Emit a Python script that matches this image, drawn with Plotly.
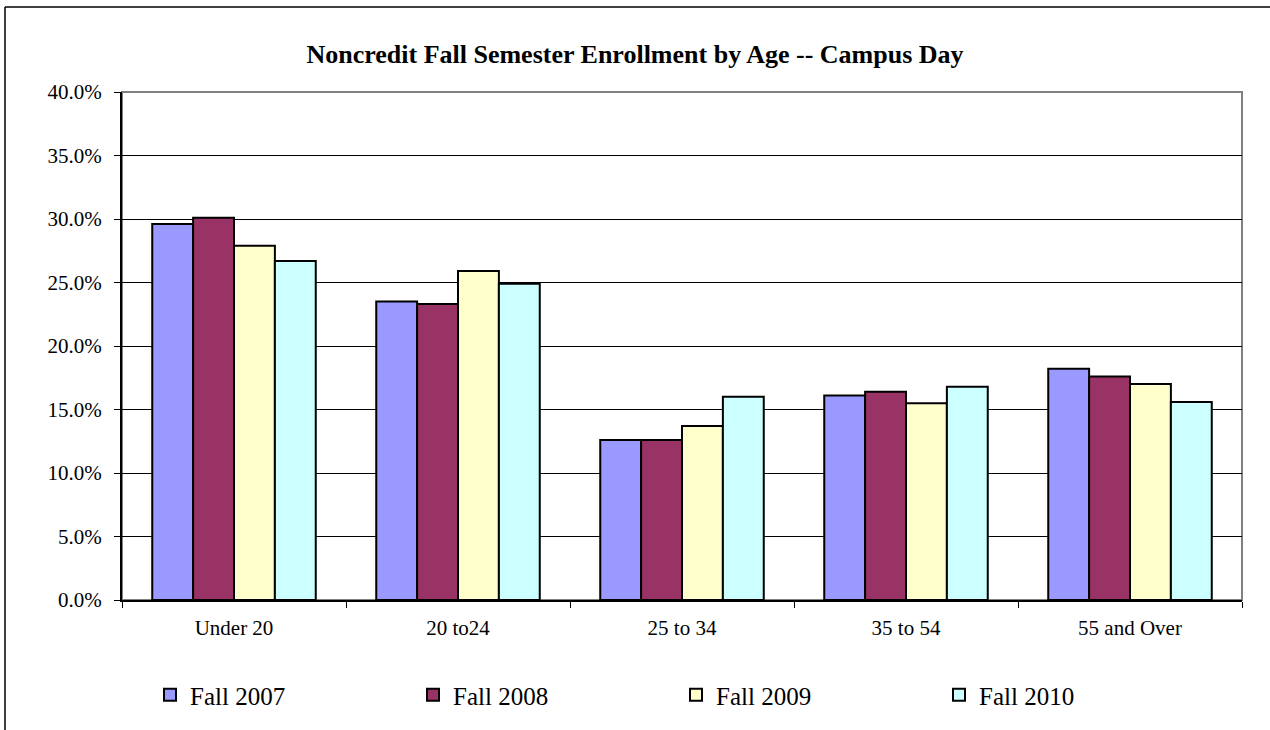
import plotly.graph_objects as go

categories = ["Under 20", "20 to24", "25 to 34", "35 to 54", "55 and Over"]
series_names = ["Fall 2007", "Fall 2008", "Fall 2009", "Fall 2010"]
fall_2007 = [29.6, 23.5, 12.6, 16.1, 18.2]
fall_2008 = [30.1, 23.3, 12.6, 16.4, 17.6]
fall_2009 = [27.9, 25.9, 13.7, 15.5, 17.0]
fall_2010 = [26.7, 24.9, 16.0, 16.8, 15.6]
colors = ["#9999FF", "#993366", "#FFFFCC", "#CCFFFF"]

W, H = 1270, 730
L, R, T, B = 122, 1242, 92, 600


def px_x(p):
    return (p - L) / (R - L)


def px_y(p):
    return (B - p) / (B - T)


fig = go.Figure()
for name, vals, col in zip(series_names, [fall_2007, fall_2008, fall_2009, fall_2010], colors):
    fig.add_trace(go.Bar(
        x=categories, y=[v / 100 for v in vals], name=name,
        marker=dict(color=col, line=dict(color="black", width=2)),
    ))

fig.update_layout(
    width=W, height=H,
    margin=dict(l=L, r=W - R, t=T, b=H - B, pad=0),
    paper_bgcolor="white", plot_bgcolor="white",
    font=dict(family="Liberation Serif, Times New Roman, serif", color="black", size=21),
    title=dict(text="<b>Noncredit Fall Semester Enrollment by Age -- Campus Day</b>",
               x=0.5, xanchor="center", y=1 - 54 / H, yanchor="middle",
               font=dict(size=26)),
    barmode="group", bargap=0.27, bargroupgap=0,
    showlegend=True,
    legend=dict(orientation="h", x=px_x(150), xanchor="left", y=px_y(695), yanchor="middle",
                entrywidth=218, entrywidthmode="pixels", font=dict(size=25),
                itemwidth=30, traceorder="normal"),
    shapes=[
        dict(type="line", xref="paper", yref="paper", x0=px_x(5), x1=px_x(1275),
             y0=px_y(7), y1=px_y(7), line=dict(color="black", width=1.5)),
        dict(type="line", xref="paper", yref="paper", x0=px_x(5), x1=px_x(5),
             y0=px_y(7), y1=px_y(735), line=dict(color="black", width=1.5)),
        dict(type="rect", xref="paper", yref="paper", x0=0, x1=1, y0=0, y1=1,
             line=dict(color="#808080", width=2), layer="below"),
    ],
)

fig.update_yaxes(range=[0, 0.4], dtick=0.05, tickformat=".1%",
                 showgrid=True, gridcolor="black", gridwidth=1,
                 showline=True, linecolor="black", linewidth=2,
                 ticks="outside", ticklen=6, tickcolor="black",
                 ticklabelstandoff=8, zeroline=False)
fig.update_xaxes(showline=True, linecolor="black", linewidth=2,
                 ticks="outside", tickson="boundaries", ticklen=6, tickcolor="black",
                 ticklabelstandoff=8, showgrid=False)

fig.write_html("out.html", config={"displayModeBar": False},
               post_script="document.body.style.margin='0';")
